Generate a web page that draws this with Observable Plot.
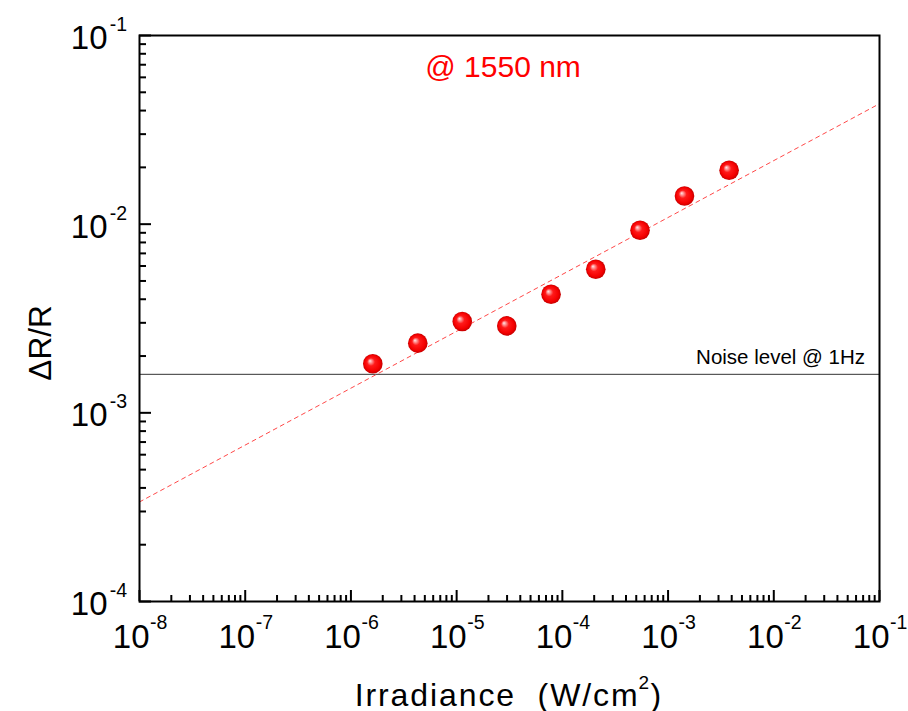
<!DOCTYPE html>
<html>
<head>
<meta charset="utf-8">
<script src="https://cdn.jsdelivr.net/npm/d3@7"></script>
<script src="https://cdn.jsdelivr.net/npm/@observablehq/plot@0.6"></script>
<style>
  html, body { margin: 0; padding: 0; background: white; }
</style>
</head>
<body>
<div id="chart"></div>
<script>
// ---- data ----
const irradiance = [1.61e-6, 4.29e-6, 1.13e-5, 2.98e-5, 7.82e-5, 2.07e-4, 5.43e-4, 1.43e-3, 3.78e-3];
const deltaRR    = [1.82e-3, 2.34e-3, 3.05e-3, 2.89e-3, 4.25e-3, 5.77e-3, 9.29e-3, 1.41e-2, 1.93e-2];
const fitX = [1e-8, 1e-1];
const fitY = [3.37e-4, 4.35e-2];
const noiseLevel = 1.6e-3;

// ---- ticks ----
const xMajor = [1e-8, 1e-7, 1e-6, 1e-5, 1e-4, 1e-3, 1e-2, 1e-1];
const xExp   = ["-8", "-7", "-6", "-5", "-4", "-3", "-2", "-1"];
const yMajor = [1e-4, 1e-3, 1e-2, 1e-1];
const yExp   = ["-4", "-3", "-2", "-1"];
const minorMult = [2, 3, 4, 5, 6, 7, 8, 9];
const xDecades = [1e-8, 1e-7, 1e-6, 1e-5, 1e-4, 1e-3, 1e-2];
const yDecades = [1e-4, 1e-3, 1e-2];
const xMinor = xDecades.flatMap(d => minorMult.map(m => m * d));
const yMinor = yDecades.flatMap(d => minorMult.map(m => m * d));

// ---- labels ----
const annotation = "@ 1550 nm";
const annotationPos = {x: 2.75e-5, y: 0.0603};
const noiseText = "Noise level @ 1Hz";
const noiseTextPos = {x: 0.073, y: 1.815e-3};
const xTitleMain = "Irradiance\u00a0\u00a0(W/cm";
const xTitleSup = "2";
const xTitleEnd = ")";
const yTitle = "ΔR/R";

const W = 908, H = 711;
const mL = 139, mR = 29, mT = 35, mB = 110;
const innerW = W - mL - mR, innerH = H - mT - mB;

const points = irradiance.map((x, i) => ({x, y: deltaRR[i]}));
const fit = fitX.map((x, i) => ({x, y: fitY[i]}));
const xLab = xMajor.map((v, i) => ({v, e: xExp[i]}));
const yLab = yMajor.map((v, i) => ({v, e: yExp[i]}));

const font = "'Liberation Sans', Arial, Helvetica, sans-serif";

const chart = Plot.plot({
  width: W,
  height: H,
  marginLeft: mL,
  marginRight: mR,
  marginTop: mT,
  marginBottom: mB,
  style: {fontFamily: font, background: "white", color: "black", overflow: "visible"},
  x: {type: "log", domain: [1e-8, 1e-1], axis: null},
  y: {type: "log", domain: [1e-4, 1e-1], axis: null},
  marks: [
    // noise level
    Plot.ruleY([noiseLevel], {stroke: "#333", strokeWidth: 1}),
    // fit line
    Plot.line(fit, {x: "x", y: "y", stroke: "#ff4848", strokeWidth: 1, strokeDasharray: "4,4"}),
    // ticks (inward)
    Plot.ruleX(xMajor, {x: d => d, insetTop: innerH - 11, stroke: "black", strokeWidth: 2}),
    Plot.ruleX(xMinor, {x: d => d, insetTop: innerH - 6, stroke: "black", strokeWidth: 2}),
    Plot.ruleY(yMajor, {y: d => d, insetRight: innerW - 12, stroke: "black", strokeWidth: 2}),
    Plot.ruleY(yMinor, {y: d => d, insetRight: innerW - 7, stroke: "black", strokeWidth: 2}),
    Plot.frame({stroke: "black", strokeWidth: 2}),
    // data points
    Plot.dot(points, {x: "x", y: "y", r: 9.8, fill: "url(#sphere)", stroke: "none"}),
    // tick labels x
    Plot.text(xLab, {x: "v", frameAnchor: "bottom", text: () => "10", textAnchor: "end", lineAnchor: "bottom", dx: 10, dy: 46, fontSize: 33, fill: "black"}),
    Plot.text(xLab, {x: "v", frameAnchor: "bottom", text: "e", textAnchor: "start", lineAnchor: "bottom", dx: 10.5, dy: 27.5, fontSize: 19.5, fill: "black"}),
    // tick labels y
    Plot.text(yLab, {y: "v", frameAnchor: "left", text: () => "10", textAnchor: "end", lineAnchor: "bottom", dx: -32, dy: 13.5, fontSize: 33, fill: "black"}),
    Plot.text(yLab, {y: "v", frameAnchor: "left", text: "e", textAnchor: "end", lineAnchor: "bottom", dx: -12.5, dy: -4.5, fontSize: 19.5, fill: "black"}),
    // annotations
    Plot.text([annotation], {x: () => annotationPos.x, y: () => annotationPos.y, text: d => d, textAnchor: "middle", lineAnchor: "bottom", fontSize: 30, fill: "#ff0000"}),
    Plot.text([noiseText], {x: () => noiseTextPos.x, y: () => noiseTextPos.y, text: d => d, textAnchor: "end", lineAnchor: "bottom", fontSize: 20.5, fill: "black"}),
    // axis titles
    Plot.text([xTitleMain], {frameAnchor: "bottom", text: d => d, textAnchor: "end", lineAnchor: "bottom", dx: 130, dy: 104, fontSize: 32, fill: "black"}),
    Plot.text([xTitleSup], {frameAnchor: "bottom", text: d => d, textAnchor: "start", lineAnchor: "bottom", dx: 129, dy: 87, fontSize: 19, fill: "black"}),
    Plot.text([xTitleEnd], {frameAnchor: "bottom", text: d => d, textAnchor: "start", lineAnchor: "bottom", dx: 141, dy: 104, fontSize: 32, fill: "black"}),
    Plot.text([yTitle], {frameAnchor: "left", text: d => d, textAnchor: "middle", lineAnchor: "bottom", rotate: -90, dx: -89, dy: 24.5, fontSize: 31.5, fill: "black"})
  ]
});

// widen the x-axis title letter spacing slightly, like the reference
d3.select(chart).selectAll("text")
  .filter(function() { return this.textContent === xTitleMain; })
  .style("letter-spacing", "1.9px");

// radial gradient for the sphere-like markers
const svgNS = "http://www.w3.org/2000/svg";
const defs = document.createElementNS(svgNS, "defs");
const grad = document.createElementNS(svgNS, "radialGradient");
grad.setAttribute("id", "sphere");
grad.setAttribute("cx", "50%"); grad.setAttribute("cy", "50%"); grad.setAttribute("r", "50%");
grad.setAttribute("fx", "35%"); grad.setAttribute("fy", "35%");
[["0%", "#ffeaea"], ["15%", "#ff9c9c"], ["40%", "#ff1a1a"], ["80%", "#f40000"], ["100%", "#c40000"]].forEach(([o, c]) => {
  const s = document.createElementNS(svgNS, "stop");
  s.setAttribute("offset", o); s.setAttribute("stop-color", c);
  grad.appendChild(s);
});
defs.appendChild(grad);
chart.insertBefore(defs, chart.firstChild);

document.getElementById("chart").appendChild(chart);
</script>
</body>
</html>
